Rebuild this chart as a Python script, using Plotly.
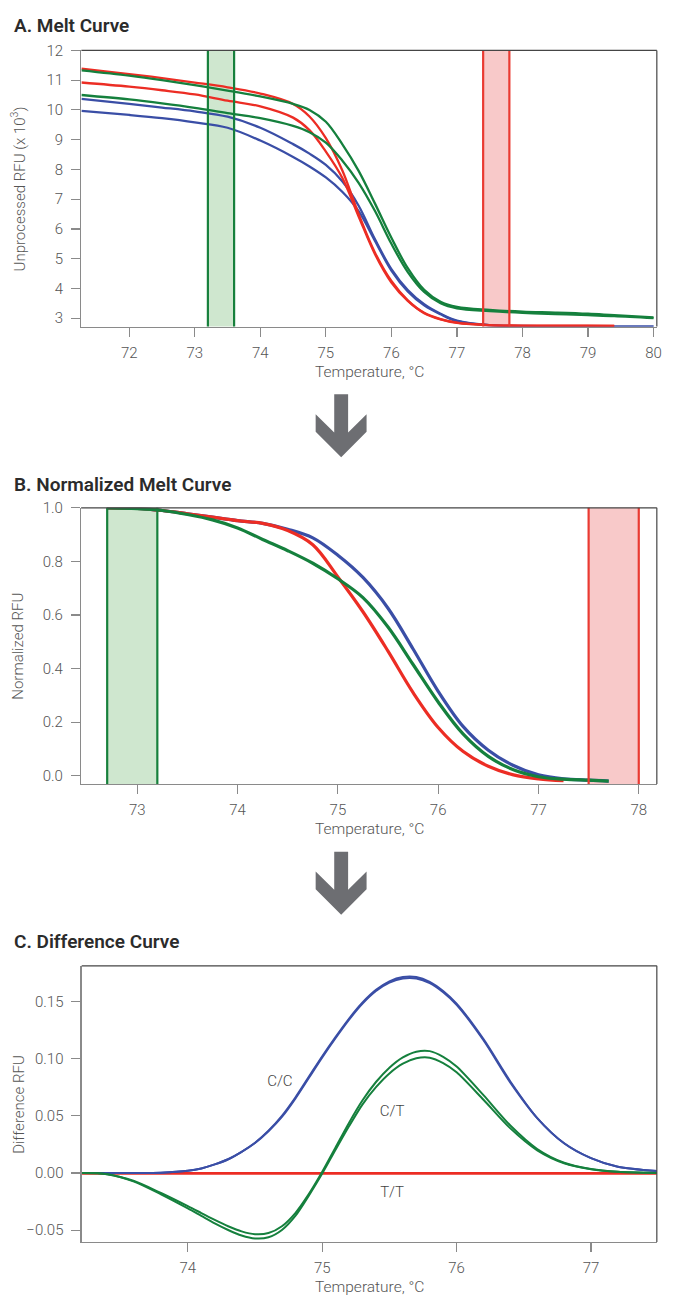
import plotly.graph_objects as go

W, H = 679, 1296

# ---------------- Panel A: raw melt curves (RFU x 10^3) ----------------
a_temp = [71.27, 72.0, 72.5, 73.0, 73.5, 74.0, 74.5, 74.75, 75.0, 75.25, 75.5, 75.75,
          76.0, 76.25, 76.5, 76.75, 77.0, 77.5, 78.0, 78.5, 79.0, 79.4, 80.0]
a_red1 = [11.39, 11.2, 11.07, 10.92, 10.76, 10.55, 10.2, 9.78, 9.05, 7.97, 6.5, 5.2,
          4.25, 3.6, 3.18, 2.97, 2.85, 2.77, 2.75, 2.75, 2.75, 2.74, None]
a_red2 = [10.92, 10.78, 10.66, 10.52, 10.31, 10.12, 9.74, 9.32, 8.6, 7.72, 6.42, 5.15,
          4.2, 3.58, 3.17, 2.96, 2.84, 2.76, 2.745, 2.745, 2.745, 2.74, None]
a_green1 = [11.33, 11.15, 11.0, 10.83, 10.65, 10.45, 10.2, 10.0, 9.6, 8.85, 7.95, 6.85,
            5.7, 4.68, 3.95, 3.55, 3.38, 3.28, 3.22, 3.19, 3.15, 3.1, 3.03]
a_green2 = [10.5, 10.35, 10.22, 10.07, 9.89, 9.72, 9.46, 9.25, 8.9, 8.3, 7.55, 6.6,
            5.5, 4.55, 3.88, 3.5, 3.33, 3.24, 3.18, 3.14, 3.1, 3.07, 3.0]
a_blue1 = [10.37, 10.2, 10.08, 9.95, 9.77, 9.4, 8.85, 8.53, 8.15, 7.6, 6.78, 5.65,
           4.65, 3.95, 3.47, 3.15, 2.92, 2.77, 2.74, 2.73, 2.72, 2.72, 2.72]
a_blue2 = [9.97, 9.83, 9.72, 9.58, 9.4, 8.97, 8.42, 8.1, 7.73, 7.25, 6.6, 5.6,
           4.6, 3.9, 3.43, 3.13, 2.9, 2.76, 2.73, 2.72, 2.72, 2.72, 2.72]
a_xticks = [72, 73, 74, 75, 76, 77, 78, 79, 80]
a_yticks = [3, 4, 5, 6, 7, 8, 9, 10, 11, 12]
a_pre_band = [73.2, 73.6]
a_post_band = [77.4, 77.8]

# ---------------- Panel B: normalized melt curves ----------------
b_temp = [72.7, 73.0, 73.25, 73.5, 73.75, 74.0, 74.25, 74.5, 74.75, 75.0, 75.25, 75.5,
          75.75, 76.0, 76.25, 76.5, 76.75, 77.0, 77.25, 77.5, 77.7]
b_blue = [1.0, 0.998, 0.99, 0.978, 0.965, 0.952, 0.942, 0.92, 0.888, 0.823, 0.74, 0.625,
          0.473, 0.315, 0.183, 0.095, 0.038, 0.003, -0.012, -0.017, -0.02]
b_red = [1.0, 0.998, 0.99, 0.978, 0.965, 0.952, 0.942, 0.915, 0.862, 0.742, 0.612, 0.465,
         0.31, 0.18, 0.09, 0.035, 0.003, -0.012, -0.019, None, None]
b_green = [1.0, 0.997, 0.99, 0.975, 0.955, 0.925, 0.882, 0.84, 0.793, 0.735, 0.665, 0.555,
           0.415, 0.275, 0.155, 0.072, 0.022, -0.004, -0.013, -0.017, -0.02]
b_xticks = [73, 74, 75, 76, 77, 78]
b_yticks = [0.0, 0.2, 0.4, 0.6, 0.8, 1.0]
b_pre_band = [72.7, 73.2]
b_post_band = [77.5, 78.0]

# ---------------- Panel C: difference curves ----------------
c_temp = [73.21, 73.4, 73.6, 73.8, 74.0, 74.1, 74.2, 74.3, 74.4, 74.5, 74.6, 74.7, 74.8,
          74.9, 75.0, 75.1, 75.2, 75.3, 75.4, 75.5, 75.6, 75.7, 75.8, 75.9, 76.0, 76.2,
          76.4, 76.6, 76.8, 77.0, 77.2, 77.49]
c_cc1 = [0.0, 0.0, 0.0, 0.0003, 0.002, 0.004, 0.0075, 0.012, 0.0185, 0.0265, 0.037, 0.050,
         0.066, 0.084, 0.102, 0.119, 0.135, 0.149, 0.160, 0.1675, 0.1712, 0.1712, 0.167,
         0.159, 0.148, 0.117, 0.080, 0.048, 0.026, 0.013, 0.0055, 0.0017]
c_cc2 = [0.0, 0.0, 0.0, 0.0003, 0.002, 0.004, 0.0075, 0.012, 0.0185, 0.0262, 0.0365, 0.049,
         0.065, 0.083, 0.101, 0.118, 0.134, 0.148, 0.159, 0.1663, 0.1700, 0.1700, 0.166,
         0.158, 0.147, 0.116, 0.079, 0.048, 0.026, 0.013, 0.0055, 0.0017]
c_ct1 = [0.0, -0.001, -0.007, -0.0175, -0.029, -0.035, -0.041, -0.0465, -0.051, -0.0535,
         -0.0525, -0.0465, -0.035, -0.0185, 0.001, 0.0225, 0.044, 0.0635, 0.0795, 0.092,
         0.101, 0.106, 0.1065, 0.1015, 0.093, 0.068, 0.0415, 0.021, 0.009, 0.0035, 0.001, 0.0]
c_ct2 = [0.0, -0.001, -0.0075, -0.0187, -0.031, -0.0375, -0.044, -0.0498, -0.0546, -0.0572,
         -0.0562, -0.0498, -0.0375, -0.0198, -0.0005, 0.0205, 0.041, 0.060, 0.075, 0.087,
         0.0955, 0.1002, 0.1007, 0.096, 0.088, 0.064, 0.039, 0.0198, 0.0085, 0.0033, 0.001, 0.0]
c_tt_temp = [73.21, 74.0, 75.0, 76.0, 77.0, 77.49]
c_tt1 = [0.0, 0.0, 0.0, 0.0, 0.0, 0.0]
c_tt2 = [-0.0006, -0.0006, -0.0006, -0.0006, -0.0006, -0.0006]
c_xticks = [74, 75, 76, 77]
c_yticks = [-0.05, 0.0, 0.05, 0.10, 0.15]
c_labels = ["C/C", "C/T", "T/T"]
c_label_x = [74.685, 75.52, 75.52]
c_label_y = [0.079, 0.053, -0.018]

RED = "#ec2d24"
GREEN = "#15803d"
BLUE = "#3a4ea6"
AXIS = "#8a8a8a"
FRAME = "#454545"
TXT = "#555555"
FONT = "Roboto"


def px_x(p):
    return p / W


def px_y(p):
    return 1 - p / H


fig = go.Figure()


def add_line(x, y, color, width, xa, ya, smooth=1.0):
    fig.add_trace(go.Scatter(x=x, y=y, mode="lines", xaxis=xa, yaxis=ya,
                             line=dict(color=color, width=width, shape="spline", smoothing=smooth),
                             hoverinfo="skip", showlegend=False))


# Panel A traces
for ys, col in [(a_blue1, BLUE), (a_blue2, BLUE), (a_red1, RED), (a_red2, RED),
                (a_green1, GREEN), (a_green2, GREEN)]:
    add_line(a_temp, ys, col, 2.3, "x", "y")

# Panel B traces
for ys, col in [(b_blue, BLUE), (b_red, RED), (b_green, GREEN)]:
    add_line(b_temp, ys, col, 3.2, "x2", "y2")

# Panel C traces
for ys in (c_tt1, c_tt2):
    add_line(c_tt_temp, ys, RED, 2.0, "x3", "y3")
for ys, col in [(c_cc1, BLUE), (c_cc2, BLUE), (c_ct1, GREEN), (c_ct2, GREEN)]:
    add_line(c_temp, ys, col, 2.0, "x3", "y3", smooth=0.8)

fig.add_trace(go.Scatter(x=c_label_x, y=c_label_y, text=c_labels, mode="text",
                         xaxis="x3", yaxis="y3", hoverinfo="skip", showlegend=False,
                         textfont=dict(family=FONT, size=15, color="#444444", weight=300)))

shapes = []


def band(xr, ax, fill, edge):
    xref, yref = ax
    shapes.append(dict(type="rect", xref=xref, yref=yref + " domain", x0=xr[0], x1=xr[1],
                       y0=0, y1=1, fillcolor=fill, line=dict(width=0), layer="below"))
    for xv in xr:
        shapes.append(dict(type="line", xref=xref, yref=yref + " domain", x0=xv, x1=xv,
                           y0=0, y1=1, line=dict(color=edge, width=2.2), layer="above"))


band(a_pre_band, ("x", "y"), "#cfe7cf", "#17803c")
band(a_post_band, ("x", "y"), "#f8c9c9", "#ea3a32")
band(b_pre_band, ("x2", "y2"), "#cfe7cf", "#17803c")
band(b_post_band, ("x2", "y2"), "#f8c9c9", "#ea3a32")

# top and right frame lines
for xa, ya in [("x", "y"), ("x2", "y2"), ("x3", "y3")]:
    shapes.append(dict(type="line", xref=xa + " domain", yref=ya + " domain", x0=0, x1=1,
                       y0=1, y1=1, line=dict(color=FRAME, width=1.2)))
    shapes.append(dict(type="line", xref=xa + " domain", yref=ya + " domain", x0=1, x1=1,
                       y0=0, y1=1, line=dict(color=FRAME, width=1.2)))

# arrows between panels (decorations)
arrow_px = [(336.7, 388.3), (350.7, 388.3), (350.7, 426.7), (369.3, 408.3), (369.3, 426.0),
            (343.7, 451.7), (318.0, 426.0), (318.0, 408.3), (336.7, 426.7)]
for dy in (0, 461):
    path = "M " + " L ".join(f"{px_x(x):.5f},{px_y(y + dy):.5f}" for x, y in arrow_px) + " Z"
    shapes.append(dict(type="path", xref="paper", yref="paper", path=path,
                       fillcolor="#6d6e72", line=dict(width=0)))

annotations = []


def text(s, x, y, size, color, weight=300, angle=0, xanchor="center"):
    annotations.append(dict(text=s, x=px_x(x), y=px_y(y), xref="paper", yref="paper",
                            showarrow=False, xanchor=xanchor, yanchor="middle", textangle=angle,
                            font=dict(family=FONT, size=size, color=color, weight=weight)))


text("A. Melt Curve", 12, 16.5, 19, "#2b2b2b", weight=600, xanchor="left")
text("B. Normalized Melt Curve", 12, 479.7, 19, "#2b2b2b", weight=600, xanchor="left")
text("C. Difference Curve", 12, 940, 19, "#2b2b2b", weight=600, xanchor="left")
text("Temperature, °C", 371.8, 366, 15.5, TXT)
text("Temperature, °C", 371.8, 826.7, 15.5, TXT)
text("Temperature, °C", 372, 1288, 15.5, TXT)
text("Unprocessed RFU (x 10<sup>3</sup>)", 18, 181, 15, TXT, angle=-90)
text("Normalized RFU", 18, 641.8, 15, TXT, angle=-90)
text("Difference RFU", 19, 1103.5, 15, TXT, angle=-90)

common_axis = dict(showline=True, linecolor=AXIS, linewidth=1.2, ticks="outside", ticklen=9,
                   tickcolor=AXIS, tickwidth=1.2, showgrid=False, zeroline=False,
                   tickfont=dict(family=FONT, size=15, color=TXT, weight=300))
xa_extra = dict(ticklabelstandoff=3)
ya_extra = dict(ticklabelstandoff=5)

fig.update_layout(
    width=W, height=H, margin=dict(l=0, r=0, t=0, b=0),
    paper_bgcolor="white", plot_bgcolor="white", showlegend=False, hovermode=False,
    shapes=shapes, annotations=annotations,
    xaxis=dict(domain=[px_x(82), px_x(661.7)], range=[71.27, 80.05], tickvals=a_xticks,
               anchor="y", **common_axis, **xa_extra),
    yaxis=dict(domain=[px_y(320), px_y(41.7)], range=[2.72, 12], tickvals=a_yticks,
               anchor="x", **common_axis, **ya_extra),
    xaxis2=dict(domain=[px_x(81.7), px_x(661.7)], range=[72.44, 78.18], tickvals=b_xticks,
                anchor="y2", **common_axis, **xa_extra),
    yaxis2=dict(domain=[px_y(781), px_y(502.7)], range=[-0.031, 1.0], tickvals=b_yticks,
                tickformat=".1f", anchor="x2", **common_axis, **ya_extra),
    xaxis3=dict(domain=[px_x(82.3), px_x(661.7)], range=[73.21, 77.49], tickvals=c_xticks,
                anchor="y3", **common_axis, **xa_extra),
    yaxis3=dict(domain=[px_y(1242.7), px_y(964.3)], range=[-0.0604, 0.181], tickvals=c_yticks,
                tickformat=".2f", anchor="x3", **common_axis, **ya_extra),
)

fig.write_html("out.html", config={"displayModeBar": False, "staticPlot": True},
               post_script="document.body.style.margin='0px';document.body.style.overflow='hidden';")
